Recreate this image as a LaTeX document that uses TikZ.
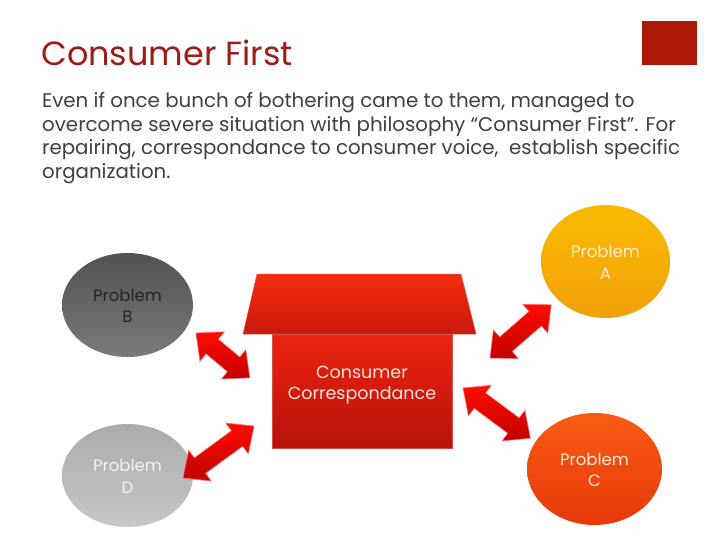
\documentclass[tikz,border=0pt]{standalone}
\usepackage{fontspec}
\setmainfont{Poppins}
\usetikzlibrary{shapes.geometric}
\definecolor{titlered}{HTML}{9E1C18}
\definecolor{squarered}{HTML}{AE1806}
\definecolor{bodygray}{HTML}{404040}
\newcommand\probtext[1]{\raisebox{-7pt}[0pt][0pt]{\begin{tabular}{@{}c@{}}Problem\\#1\end{tabular}}}
\tikzset{
  arrowstyle/.style={top color=red!90!orange, bottom color=red!75!black, draw=red!60!white, line width=0.6pt},
  probnode/.style={ellipse, inner sep=0pt, align=center, font={\fontsize{16.5}{21.5}\selectfont}},
  dblarrow/.pic={
    \path[arrowstyle] (0,0) -- (21,19) -- (21,9.5) -- ({#1-21},9.5) -- ({#1-21},19) -- (#1,0)
      -- ({#1-21},-19) -- ({#1-21},-9.5) -- (21,-9.5) -- (21,-19) -- cycle;
  }
}
\begin{document}
\begin{tikzpicture}[x=1pt,y=-1pt]
\useasboundingbox (0,0) rectangle (720,540);
\fill[white] (0,0) rectangle (720,540);
% corner square
\fill[squarered] (642,21) rectangle (697,65);
% title
\node[anchor=base west, inner sep=0pt, text=titlered, font={\fontsize{33.5}{40}\selectfont}] (title) at (41,66) {Consumer First};
% body
\node[anchor=north west, inner sep=0pt, align=left, text=bodygray, font={\fontsize{19.8}{23.7}\selectfont}] (body) at (42,92)
 {Even if once bunch of bothering came to them, managed to\\
  overcome severe situation with philosophy “Consumer First”. For\\
  repairing, correspondance to consumer voice,\ \ establish specific\\
  organization.};
% problem ellipses
\node[probnode, minimum width=131pt, minimum height=104pt, top color=black!68, bottom color=black!52, text=black!85] (B) at (127.5,305) {\probtext{B}};
\node[probnode, minimum width=131pt, minimum height=103pt, top color=black!33, bottom color=black!22, text=white!95!black] (D) at (127.5,475.5) {\probtext{D}};
\node[probnode, minimum width=129pt, minimum height=113pt, top color={rgb,255:red,250;green,186;blue,0}, bottom color={rgb,255:red,242;green,160;blue,10}, text={rgb,255:red,255;green,236;blue,200}] (A) at (605.5,261.5) {\probtext{A}};
\node[probnode, minimum width=135pt, minimum height=112pt, top color={rgb,255:red,248;green,92;blue,20}, bottom color={rgb,255:red,232;green,56;blue,10}, text={rgb,255:red,255;green,232;blue,215}] (C) at (594.5,469) {\probtext{C}};
% house
\path[top color={rgb,255:red,245;green,45;blue,15}, bottom color={rgb,255:red,200;green,25;blue,15}, draw={rgb,255:red,225;green,90;blue,80}, line width=0.5pt]
  (257,274) -- (461,274) -- (476,334) -- (243,334) -- cycle;
\node[rectangle, minimum width=180pt, minimum height=114pt, inner sep=0pt, top color={rgb,255:red,235;green,35;blue,15}, bottom color={rgb,255:red,185;green,18;blue,12}, draw={rgb,255:red,215;green,80;blue,75}, line width=0.5pt] (box) at (362,391) {};
\node[align=center, inner sep=0pt, text={rgb,255:red,252;green,225;blue,215}, font={\fontsize{17.5}{21.5}\selectfont}] (boxtext) at (362,385) {Consumer\\Correspondance};
% arrows
\coordinate (bs) at (196,333);
\coordinate (ds) at (183,478);
\coordinate (as) at (490,358);
\coordinate (cs) at (463,388);
\pic[rotate=-39.8] at (bs) {dblarrow=70};
\pic[rotate=36.2] at (ds) {dblarrow=88};
\pic[rotate=41] at (as) {dblarrow=81};
\pic[rotate=-36.7] at (cs) {dblarrow=84};
\end{tikzpicture}
\end{document}
